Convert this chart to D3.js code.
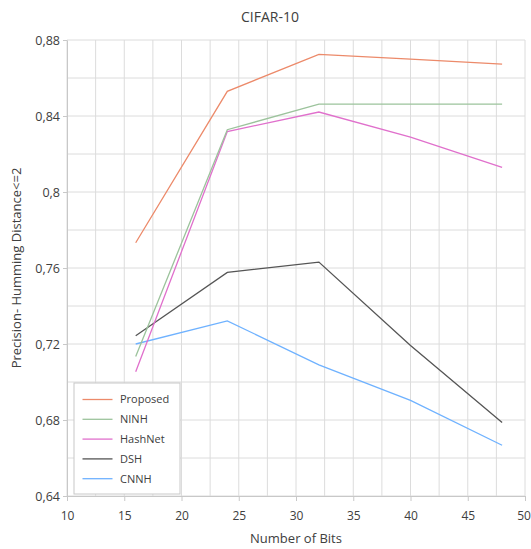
<!DOCTYPE html>
<html>
<head>
<meta charset="utf-8">
<script src="https://cdn.jsdelivr.net/npm/d3@7"></script>
<style>
  body { margin: 0; background: #fff; }
  text { font-family: "Open Sans", sans-serif; fill: #404040; }
</style>
</head>
<body>
<div id="wrapper"></div>
<script>
const bits = [16, 24, 32, 40, 48];
const proposed = [0.7733, 0.853, 0.8724, 0.8699, 0.8673];
const ninh = [0.7134, 0.8328, 0.8462, 0.8462, 0.8462];
const hashnet = [0.7054, 0.8318, 0.8421, 0.8289, 0.813];
const dsh = [0.7243, 0.7577, 0.7631, 0.7192, 0.6787];
const cnnh = [0.72, 0.7322, 0.709, 0.6903, 0.6667];
const seriesNames = ["Proposed", "NINH", "HashNet", "DSH", "CNNH"];
const seriesColors = ["#ec8a6a", "#9cc39c", "#e070cc", "#555555", "#6fb2ff"];
const xTicks = [10, 15, 20, 25, 30, 35, 40, 45, 50];
const yTicks = [0.64, 0.68, 0.72, 0.76, 0.8, 0.84, 0.88];

const series = [proposed, ninh, hashnet, dsh, cnnh].map((vals, i) => ({
  name: seriesNames[i],
  color: seriesColors[i],
  values: vals.map((v, j) => ({ x: bits[j], y: v }))
}));

const dimentions = {
  width: 531,
  height: 549,
  margin: { top: 40, right: 6, bottom: 53, left: 67 }
};
dimentions.boundedWidth = dimentions.width - dimentions.margin.left - dimentions.margin.right;
dimentions.boundedHeight = dimentions.height - dimentions.margin.top - dimentions.margin.bottom;

const wrapper = d3.select("#wrapper")
  .append("svg")
  .attr("width", dimentions.width)
  .attr("height", dimentions.height);

const bounds = wrapper.append("g")
  .attr("transform", `translate(${dimentions.margin.left},${dimentions.margin.top})`);

const xScale = d3.scaleLinear()
  .domain([10, 50])
  .range([0, dimentions.boundedWidth]);

const yScale = d3.scaleLinear()
  .domain([0.64, 0.88])
  .range([dimentions.boundedHeight, 0]);

// gridlines
bounds.append("g")
  .selectAll("line")
  .data(d3.range(10, 50.01, 2.5))
  .join("line")
  .attr("x1", d => xScale(d)).attr("x2", d => xScale(d))
  .attr("y1", 0).attr("y2", dimentions.boundedHeight)
  .attr("stroke", "#dcdcdc").attr("stroke-width", 1);

bounds.append("g")
  .selectAll("line")
  .data(d3.range(0.64, 0.8801, 0.02))
  .join("line")
  .attr("x1", 0).attr("x2", dimentions.boundedWidth)
  .attr("y1", d => yScale(d)).attr("y2", d => yScale(d))
  .attr("stroke", "#dcdcdc").attr("stroke-width", 1);

// axes
const xAxisGenerator = d3.axisBottom(xScale)
  .tickValues(xTicks)
  .tickSize(5)
  .tickSizeOuter(0);
const xAxis = bounds.append("g")
  .attr("transform", `translate(0,${dimentions.boundedHeight})`)
  .call(xAxisGenerator);
xAxis.select(".domain").attr("stroke", "#c8c8c8");
xAxis.selectAll(".tick line").attr("stroke", "#c8c8c8");
xAxis.selectAll(".tick text")
  .attr("dy", "1.3em")
  .attr("dx", d => d === 50 ? -1.5 : 0)
  .style("font-size", "12px")
  .style("font-family", "Open Sans, sans-serif")
  .attr("fill", "#404040");

const yAxisGenerator = d3.axisLeft(yScale)
  .tickValues(yTicks)
  .tickSize(4)
  .tickSizeOuter(0)
  .tickFormat(d => d3.format(".2~f")(d).replace(".", ","));
const yAxis = bounds.append("g").call(yAxisGenerator);
yAxis.select(".domain").attr("stroke", "#c8c8c8");
yAxis.selectAll(".tick line").attr("stroke", "#c8c8c8");
yAxis.selectAll(".tick text")
  .attr("x", -7)
  .style("font-size", "12.5px")
  .style("font-family", "Open Sans, sans-serif")
  .attr("fill", "#404040");

// lines
const lineGenerator = d3.line()
  .x(d => xScale(d.x))
  .y(d => yScale(d.y));

bounds.append("g")
  .selectAll("path")
  .data(series.slice().reverse())
  .join("path")
  .attr("d", d => lineGenerator(d.values))
  .attr("fill", "none")
  .attr("stroke", d => d.color)
  .attr("stroke-width", 1.3);

// legend
const legend = wrapper.append("g")
  .attr("transform", "translate(74,383)");
legend.append("rect")
  .attr("width", 106).attr("height", 111)
  .attr("fill", "#fff")
  .attr("stroke", "#c8c8c8");
const legendItems = legend.selectAll(".item")
  .data(series)
  .join("g")
  .attr("transform", (d, i) => `translate(0,${16.5 + i * 19.8})`);
legendItems.append("line")
  .attr("x1", 8.5).attr("x2", 38.5)
  .attr("stroke", d => d.color)
  .attr("stroke-width", 1.3);
legendItems.append("text")
  .attr("x", 46).attr("dy", "0.35em")
  .style("font-size", "11px")
  .text(d => d.name);

// titles
wrapper.append("text")
  .attr("x", 270).attr("y", 22)
  .attr("text-anchor", "middle")
  .style("font-size", "14px")
  .text("CIFAR-10");

wrapper.append("text")
  .attr("x", 296).attr("y", 543)
  .attr("text-anchor", "middle")
  .style("font-size", "13px")
  .text("Number of Bits");

wrapper.append("text")
  .attr("transform", `translate(21,${dimentions.margin.top + dimentions.boundedHeight / 2}) rotate(-90)`)
  .attr("text-anchor", "middle")
  .style("font-size", "13px")
  .text("Precision- Humming Distance<=2");
</script>
</body>
</html>
